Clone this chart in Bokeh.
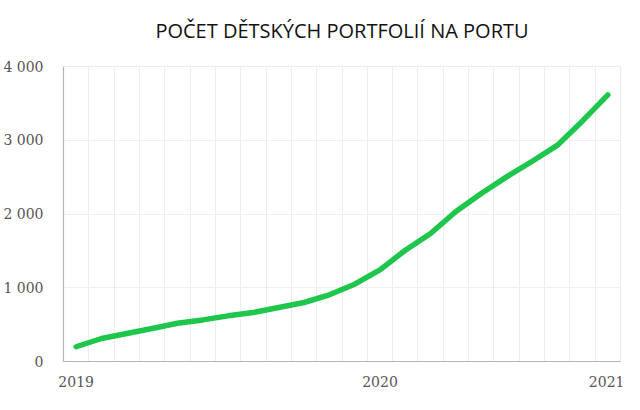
from bokeh.plotting import figure
from bokeh.models import Range1d, FixedTicker, Title
from bokeh.embed import file_html
from bokeh.resources import INLINE

# Data (monthly points)
months = list(range(22))
portfolios = [200, 312, 380, 447, 519, 564, 619, 664, 732, 800, 905, 1048,
              1242, 1509, 1735, 2034, 2278, 2503, 2712, 2930, 3262, 3615]
x_tick_positions = [0, 12, 21]
x_tick_labels = ["2019", "2020", "2021"]
y_ticks = [0, 1000, 2000, 3000, 4000]
y_tick_labels = ["0", "1 000", "2 000", "3 000", "4 000"]
title_text = "POČET DĚTSKÝCH PORTFOLIÍ NA PORTU"

p = figure(width=624, height=394, output_backend="svg", toolbar_location=None,
           x_range=Range1d(-0.5, len(months) - 0.5), y_range=Range1d(0, 4000),
           min_border_left=55, min_border_right=4, min_border_top=66, min_border_bottom=33,
           title=title_text)

p.title.text_font = "Open Sans"
p.title.text_font_size = "20px"
p.title.text_font_style = "normal"
p.title.text_color = "#111111"
p.title.align = "center"
p.title.vertical_align = "top"
p.title.standoff = 0

# blank spacer between the title and the plot frame
p.add_layout(Title(text=" ", text_font_size="1px", standoff=18), "above")

p.line(months, portfolios, line_color="#1fc64c", line_width=5.5, line_join="round", line_cap="round")

p.xaxis.ticker = FixedTicker(ticks=x_tick_positions)
p.xaxis.major_label_overrides = dict(zip(x_tick_positions, x_tick_labels))
p.yaxis.ticker = FixedTicker(ticks=y_ticks)
p.yaxis.major_label_overrides = dict(zip(y_ticks, y_tick_labels))

for ax in (p.xaxis, p.yaxis):
    ax.major_tick_line_color = None
    ax.minor_tick_line_color = None
    ax.axis_line_color = "#b5b5b5"
    ax.axis_line_width = 1.2
    ax.major_label_text_font = "DejaVu Serif"
    ax.major_label_text_font_size = "14px"
    ax.major_label_text_color = "#555555"
p.xaxis.major_label_standoff = 8
p.yaxis.major_label_standoff = 14

p.xgrid.ticker = FixedTicker(ticks=[m + 0.5 for m in months[:-1]])
p.xgrid.grid_line_color = "#ededed"
p.ygrid.ticker = FixedTicker(ticks=y_ticks)
p.ygrid.grid_line_color = "#efefef"
p.outline_line_color = "#ececec"
p.background_fill_color = "white"
p.border_fill_color = "white"

open("out.html", "w").write(file_html(p, INLINE))
